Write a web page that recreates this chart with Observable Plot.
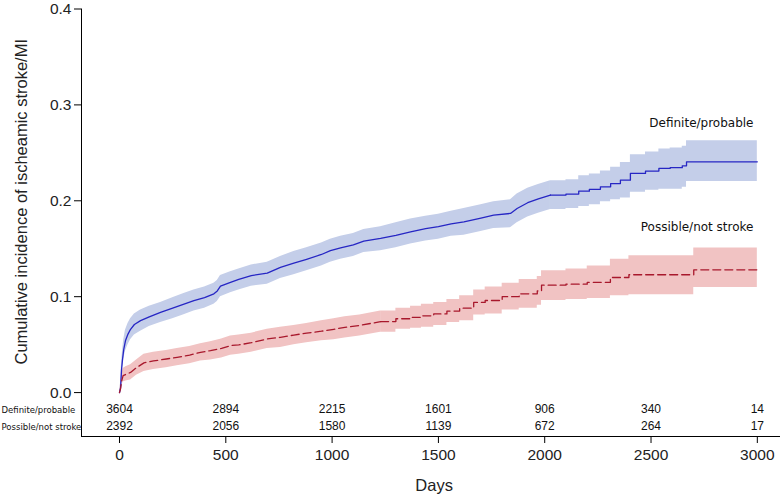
<!DOCTYPE html>
<html><head><meta charset="utf-8">
<script src="https://cdn.jsdelivr.net/npm/d3@7"></script>
<script src="https://cdn.jsdelivr.net/npm/@observablehq/plot@0.6"></script>
<style>body{margin:0;background:#fff}</style>
</head><body><div id="chart"></div>
<script>
// Definite/probable stroke group
const defDays = [0,5,10,15,20,28,40,52,70,99,140,193,250,300,350,400,444,460,475,522,561,620,695,757,820,880,950,992,1040,1100,1149,1228,1300,1369,1440,1500,1560,1620,1700,1760,1839,1870,1920,1970,2027,2100,2160,2210,2262,2310,2356,2403,2474,2537,2590,2647,2667,3000];
const defEst  = [0,0.005,0.025,0.036,0.045,0.054,0.061,0.066,0.071,0.075,0.079,0.0837,0.088,0.092,0.0958,0.099,0.103,0.106,0.111,0.115,0.118,0.122,0.1245,0.1306,0.135,0.139,0.144,0.148,0.151,0.154,0.158,0.1607,0.164,0.1677,0.171,0.173,0.176,0.178,0.182,0.185,0.1868,0.192,0.198,0.202,0.206,0.207,0.210,0.212,0.2146,0.218,0.2215,0.2285,0.231,0.2337,0.2345,0.2365,0.2406,0.2406];
const defLow  = [0,0.001,0.017,0.027,0.035,0.043,0.050,0.055,0.060,0.064,0.069,0.073,0.077,0.081,0.085,0.088,0.092,0.095,0.100,0.104,0.107,0.111,0.113,0.119,0.123,0.127,0.132,0.136,0.139,0.142,0.146,0.148,0.151,0.155,0.158,0.160,0.163,0.164,0.168,0.171,0.172,0.177,0.183,0.187,0.191,0.192,0.194,0.196,0.199,0.201,0.203,0.209,0.211,0.212,0.212,0.214,0.220,0.220];
const defHigh = [0,0.010,0.033,0.045,0.055,0.065,0.072,0.077,0.082,0.086,0.090,0.094,0.099,0.103,0.107,0.110,0.114,0.117,0.122,0.126,0.129,0.133,0.136,0.142,0.147,0.151,0.156,0.160,0.163,0.166,0.170,0.173,0.177,0.181,0.184,0.186,0.189,0.192,0.196,0.199,0.201,0.207,0.213,0.217,0.221,0.222,0.226,0.228,0.231,0.235,0.240,0.248,0.251,0.254,0.255,0.257,0.2625,0.2625];

// Possible/not stroke group
const posDays = [0,5,10,17,30,52,80,115,160,220,271,330,381,428,480,522,561,620,695,757,820,880,950,1008,1060,1130,1228,1300,1369,1420,1478,1540,1600,1666,1720,1800,1880,1965,1985,2100,2200,2309,2396,2701,3000];
const posEst  = [0,0.004,0.012,0.0177,0.019,0.021,0.026,0.031,0.033,0.035,0.0368,0.039,0.042,0.0437,0.046,0.049,0.0497,0.052,0.0559,0.0576,0.060,0.062,0.064,0.066,0.068,0.070,0.074,0.077,0.0785,0.080,0.082,0.085,0.088,0.094,0.096,0.100,0.103,0.106,0.112,0.113,0.115,0.120,0.1229,0.128,0.128];
const posLow  = [0,0.000,0.006,0.011,0.012,0.013,0.018,0.022,0.024,0.026,0.028,0.030,0.033,0.034,0.036,0.039,0.040,0.042,0.046,0.047,0.050,0.052,0.054,0.055,0.057,0.059,0.063,0.066,0.067,0.068,0.070,0.073,0.075,0.081,0.082,0.086,0.088,0.091,0.096,0.097,0.098,0.101,0.102,0.1097,0.1097];
const posHigh = [0,0.009,0.018,0.025,0.027,0.029,0.034,0.040,0.042,0.044,0.046,0.048,0.051,0.053,0.056,0.059,0.060,0.062,0.066,0.068,0.070,0.072,0.075,0.077,0.079,0.081,0.085,0.088,0.090,0.092,0.094,0.097,0.101,0.107,0.110,0.114,0.118,0.121,0.127,0.129,0.132,0.139,0.1427,0.1507,0.1507];

const seriesNames = ["Definite/probable", "Possible/not stroke"];
const xTicks = [0,500,1000,1500,2000,2500,3000];
const yTicks = [0,0.1,0.2,0.3,0.4];
const riskDef = [3604,2894,2215,1601,906,340,14];
const riskPos = [2392,2056,1580,1139,672,264,17];
const yTitle = "Cumulative incidence of ischeamic stroke/MI";
const xTitle = "Days";

const defData = defDays.map((d,i)=>({day:d, est:defEst[i], low:defLow[i], high:defHigh[i]}));
const posData = posDays.map((d,i)=>({day:d, est:posEst[i], low:posLow[i], high:posHigh[i]}));
// dense early follow-up drawn as a smooth path, sparse late follow-up as steps
const defCut = 2027, posCut = 1228;
const defEarly = defData.filter(d => d.day <= defCut), defLate = defData.filter(d => d.day >= defCut);
const posEarly = posData.filter(d => d.day <= posCut), posLate = posData.filter(d => d.day >= posCut);

const xMin = -178.7, xMax = 3109, yMin = -0.0458, yMax = 0.4;
const sans = "'Liberation Sans', Arial, sans-serif";
const dv = "'DejaVu Sans', Verdana, sans-serif";
const blueFill = "#c4cee9", redFill = "#f1c3c3", blue = "#2626c4", red = "#a8182c";

const chart = Plot.plot({
  width: 784, height: 496,
  marginLeft: 81, marginRight: 4, marginTop: 8.5, marginBottom: 60,
  style: {fontFamily: sans, background: "#fff", overflow: "visible"},
  x: {domain: [xMin, xMax]},
  y: {domain: [yMin, yMax]},
  marks: [
    Plot.areaY(defEarly, {x:"day", y1:"low", y2:"high", curve:"linear", fill:blueFill}),
    Plot.areaY(defLate, {x:"day", y1:"low", y2:"high", curve:"step-after", fill:blueFill}),
    Plot.areaY(posEarly, {x:"day", y1:"low", y2:"high", curve:"linear", fill:redFill}),
    Plot.areaY(posLate, {x:"day", y1:"low", y2:"high", curve:"step-after", fill:redFill}),
    Plot.lineY(defEarly, {x:"day", y:"est", curve:"linear", stroke:blue, strokeWidth:1.3}),
    Plot.lineY(defLate, {x:"day", y:"est", curve:"step-after", stroke:blue, strokeWidth:1.3}),
    Plot.lineY(posEarly, {x:"day", y:"est", curve:"linear", stroke:red, strokeWidth:1.3, strokeDasharray:"8,4"}),
    Plot.lineY(posLate, {x:"day", y:"est", curve:"step-after", stroke:red, strokeWidth:1.3, strokeDasharray:"8,4"}),
    Plot.ruleX([xMin], {y1: yMin, y2: yMax, stroke:"#000", strokeWidth:1}),
    Plot.ruleY([yMin], {x1: xMin, x2: xMax, stroke:"#000", strokeWidth:1}),
    Plot.axisY({ticks: yTicks, tickFormat: d3.format(".1f"), tickSize: 7, tickPadding: 3, fontSize: 15.5, fill:"#222", stroke:"#000", label: null}),
    Plot.axisX({ticks: xTicks, tickFormat: d => String(d), tickSize: 7, tickPadding: 5, fontSize: 15.5, fill:"#222", stroke:"#000", label: null}),
    Plot.text(riskDef, {x: (d,i)=>xTicks[i], text: d=>String(d), frameAnchor:"bottom", dy:-24, fontSize:12, fill:"#111"}),
    Plot.text(riskPos, {x: (d,i)=>xTicks[i], text: d=>String(d), frameAnchor:"bottom", dy:-7, fontSize:12, fill:"#111"}),
    Plot.text([seriesNames[0]], {frameAnchor:"bottom-left", dx:-80, dy:-24, textAnchor:"start", fontSize:8.5, fontFamily: dv, fill:"#111"}),
    Plot.text([seriesNames[1]], {frameAnchor:"bottom-left", dx:-80, dy:-7, textAnchor:"start", fontSize:8.5, fontFamily: dv, fill:"#111"}),
    Plot.text([seriesNames[0]], {x: 2982, y: 0.281, textAnchor:"end", fontSize:12, fontFamily: dv, fill:"#111"}),
    Plot.text([seriesNames[1]], {x: 2982, y: 0.173, textAnchor:"end", fontSize:12, fontFamily: dv, fill:"#111"}),
    Plot.text([xTitle], {x: 1480, frameAnchor:"bottom", dy: 54, fontSize:16.5, fill:"#222"}),
    Plot.text([yTitle], {x: xMin, y: 0.199, dx: -60, rotate: -90, fontSize:16.5, fill:"#222"})
  ]
});
document.getElementById("chart").appendChild(chart);
</script>
</body></html>
